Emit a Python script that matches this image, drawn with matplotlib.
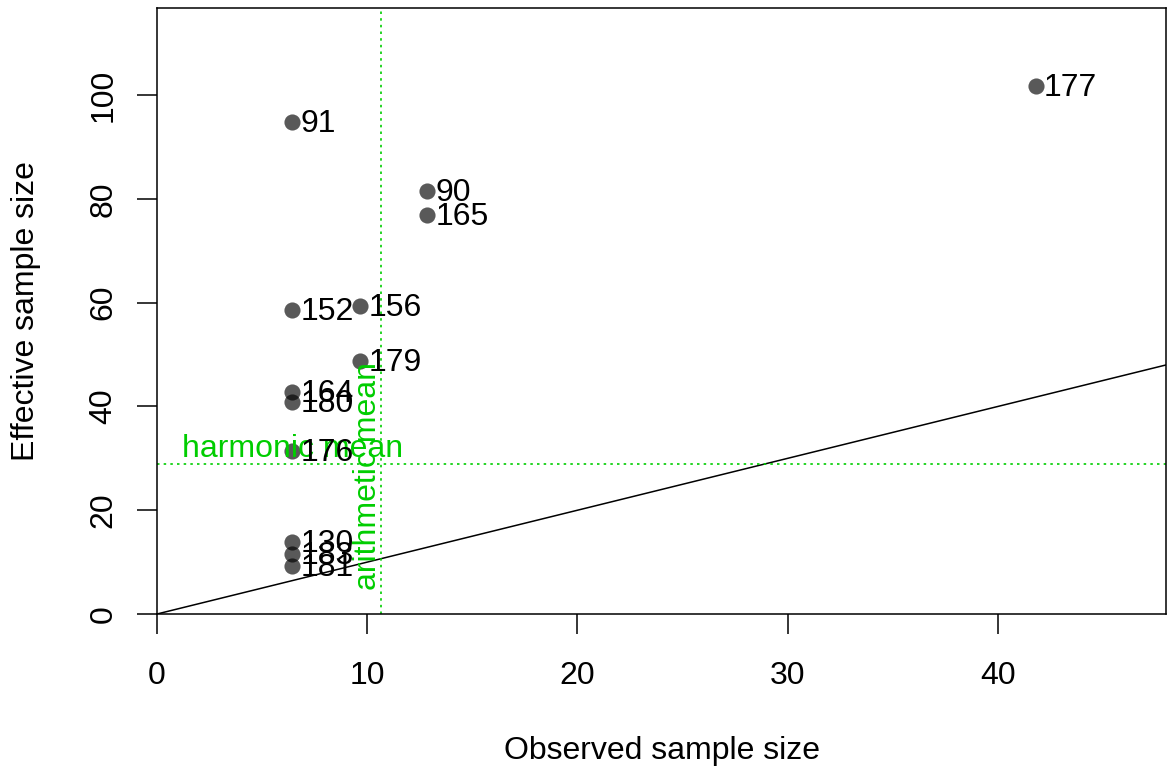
import matplotlib
matplotlib.use("Agg")
import matplotlib.pyplot as plt

# observed vs effective sample size per sample
labels = ["177", "91", "90", "165", "152", "156", "179", "164", "180", "176", "130", "183", "181"]
observed = [41.8, 6.43, 12.86, 12.86, 6.43, 9.67, 9.67, 6.43, 6.43, 6.43, 6.43, 6.43, 6.43]
effective = [101.7, 94.8, 81.5, 76.9, 58.6, 59.3, 48.7, 42.8, 40.8, 31.4, 13.9, 11.6, 9.2]
harmonic_mean = 28.9     # of effective sizes
arithmetic_mean = 10.67  # of observed sizes
text_y = 4.6             # where the rotated label starts

green = "#00CD00"
plt.rcParams["font.family"] = ["Liberation Sans", "DejaVu Sans"]
plt.rcParams["font.size"] = 23

fig = plt.figure(figsize=(11.7, 7.68), dpi=100)
ax = fig.add_axes([157 / 1170, 154 / 768, 1009 / 1170, 606 / 768])

ax.scatter(observed, effective, s=135, color="black", alpha=0.65, linewidths=0, zorder=3)
for x, y, lab in zip(observed, effective, labels):
    ax.annotate(lab, (x, y), xytext=(6, -1.5), textcoords="offset points",
                ha="left", va="center", fontsize=23, zorder=4)

ax.plot([0, 48], [0, 48], color="black", lw=1.1)
ax.axhline(harmonic_mean, color=green, lw=1.2, ls=(0, (1.5, 2.5)))
ax.axvline(arithmetic_mean, color=green, lw=1.2, ls=(0, (1.5, 2.5)))
ax.annotate("harmonic mean", (min(observed), harmonic_mean), xytext=(0, 0),
            textcoords="offset points", ha="center", va="bottom", color=green, fontsize=23)
ax.annotate("arithmetic mean", (arithmetic_mean, text_y), xytext=(1.5, 0),
            textcoords="offset points", ha="right", va="bottom", rotation=90,
            color=green, fontsize=23)

ax.set_xlim(0, 48)
ax.set_ylim(0, 116.8)
ax.set_xticks([0, 10, 20, 30, 40])
ax.set_yticks([0, 20, 40, 60, 80, 100])
ax.tick_params(axis="both", length=14.4, width=1.1, direction="out")
ax.tick_params(axis="x", pad=19.5)
ax.tick_params(axis="y", pad=13.2)
for t in ax.get_yticklabels():
    t.set_rotation(90)
    t.set_va("center")
for s in ax.spines.values():
    s.set_linewidth(1.1)

ax.set_xlabel("Observed sample size", labelpad=32)
ax.set_ylabel("Effective sample size", labelpad=34)

fig.savefig("out.png", dpi=100)
